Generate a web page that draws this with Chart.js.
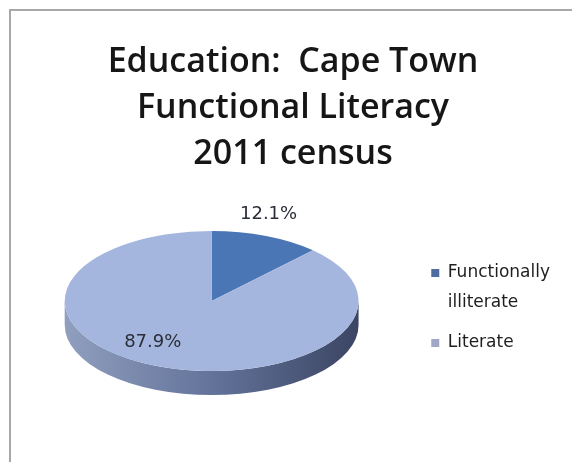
<!DOCTYPE html>
<html><head><meta charset="utf-8">
<script src="https://cdn.jsdelivr.net/npm/chart.js@4.4.0/dist/chart.umd.min.js"></script>
<style>
html,body{margin:0;padding:0;background:#fff;overflow:hidden;}
#wrap{position:relative;width:572px;height:462px;overflow:hidden;background:#fff;}
#frame{position:absolute;left:9px;top:9px;width:561px;height:451px;border-left:2px solid #a8a8a8;border-top:2px solid #a8a8a8;}
canvas{position:absolute;left:0;top:0;}
</style></head><body>
<div id="wrap"><div id="frame"></div><canvas id="c" width="572" height="462"></canvas></div>
<script>
// ---- data ----
const titleLines = ['Education:  Cape Town', 'Functional Literacy', '2011 census'];
const categories = ['Functionally illiterate', 'Literate'];
const legendLines = [['Functionally', 'illiterate'], ['Literate']];
const shares = [12.1, 87.9];
const valueLabels = ['12.1%', '87.9%'];

// ---- style ----
const topColors = ['#4B76B6', '#A4B6DD'];
const legendColors = ['#4D6E9E', '#A0A8C6'];
const legendTextColor = '#1e1e1e';
const sideStops = [
  ['#2F4F82', '#1E3559'],
  ['#909FBE', '#63739A', '#3B4563']
];
const tilt = { stretchX: 1.185, squashY: 0.565, depth: 24 };
const labelRadius = [1.29, 0.71];
const labelShift = [-4.3, 12.6];
const legendOuterGap = 24;

function frontRanges(a, b) {
  const out = [];
  for (let k = -1; k <= 1; k++) {
    const lo = Math.max(a, 2 * Math.PI * k), hi = Math.min(b, 2 * Math.PI * k + Math.PI);
    if (hi > lo) out.push([lo, hi]);
  }
  return out;
}

const spacerPlugin = {
  id: 'legendSpacer',
  beforeInit(chart) {
    const box = {
      position: 'right', weight: 1500, fullSize: false, options: {},
      left: 0, top: 0, right: 0, bottom: 0, width: 0, height: 0,
      isHorizontal() { return false; },
      update(maxWidth, maxHeight) { this.width = legendOuterGap; this.height = maxHeight; },
      draw() {}
    };
    Chart.layouts.addBox(chart, box);
  }
};

const tiltPlugin = {
  id: 'tilt3d',
  beforeDatasetsDraw(chart) {
    const ctx = chart.ctx;
    const arcs = chart.getDatasetMeta(0).data;
    if (!arcs.length) return;
    const cx = arcs[0].x, cy = arcs[0].y, r = arcs[0].outerRadius;
    ctx.save();
    ctx.translate(cx, cy);
    ctx.scale(tilt.stretchX, tilt.squashY);
    ctx.translate(-cx, -cy);
    const d = tilt.depth / tilt.squashY;
    arcs.forEach((arc, i) => {
      frontRanges(arc.startAngle, arc.endAngle).forEach(([a, b]) => {
        ctx.beginPath();
        ctx.arc(cx, cy, r, a, b);
        ctx.arc(cx, cy + d, r, b, a, true);
        ctx.closePath();
        const g = ctx.createLinearGradient(cx - r, 0, cx + r, 0);
        const st = sideStops[i];
        st.forEach((c, j) => g.addColorStop(j / (st.length - 1), c));
        ctx.fillStyle = g;
        ctx.fill();
      });
    });
  },
  afterDatasetsDraw(chart) {
    const ctx = chart.ctx;
    const arcs = chart.getDatasetMeta(0).data;
    if (!arcs.length) return;
    ctx.restore();
    const cx = arcs[0].x, cy = arcs[0].y;
    ctx.save();
    ctx.font = '18px "DejaVu Sans"';
    ctx.fillStyle = '#2a2e38';
    ctx.textAlign = 'center';
    ctx.textBaseline = 'middle';
    arcs.forEach((arc, i) => {
      const mid = (arc.startAngle + arc.endAngle) / 2 + labelShift[i] * Math.PI / 180;
      const rr = arc.outerRadius * labelRadius[i];
      ctx.fillText(valueLabels[i], cx + Math.cos(mid) * rr * tilt.stretchX, cy + Math.sin(mid) * rr * tilt.squashY);
    });
    ctx.restore();
  }
};

new Chart(document.getElementById('c'), {
  type: 'pie',
  data: {
    labels: categories,
    datasets: [{ data: shares, backgroundColor: topColors, borderWidth: 0, clip: false, hoverOffset: 0 }]
  },
  options: {
    responsive: false,
    animation: false,
    events: [],
    layout: { padding: { left: 2, right: -12, top: 0, bottom: 37 } },
    plugins: {
      title: {
        display: true, text: titleLines, color: '#161616',
        font: { family: "'Open Sans'", size: 34, weight: '600', lineHeight: 46 / 34 },
        padding: { top: 39, bottom: 0 }
      },
      legend: {
        position: 'right', fullSize: false, align: 'center',
        title: { display: true, text: '', color: legendTextColor, font: { size: 10, lineHeight: 1 }, padding: { top: 9, bottom: 8 } },
        labels: {
          boxWidth: 8, boxHeight: 8, padding: 10, color: legendTextColor,
          font: { family: "'DejaVu Sans'", size: 17, lineHeight: 30 / 17 },
          generateLabels: () => legendLines.map((t, i) => ({
            text: t, fillStyle: legendColors[i], strokeStyle: legendColors[i],
            fontColor: legendTextColor, lineWidth: 0, hidden: false, index: i
          }))
        }
      },
      tooltip: { enabled: false }
    }
  },
  plugins: [spacerPlugin, tiltPlugin]
});
</script>
</body></html>
